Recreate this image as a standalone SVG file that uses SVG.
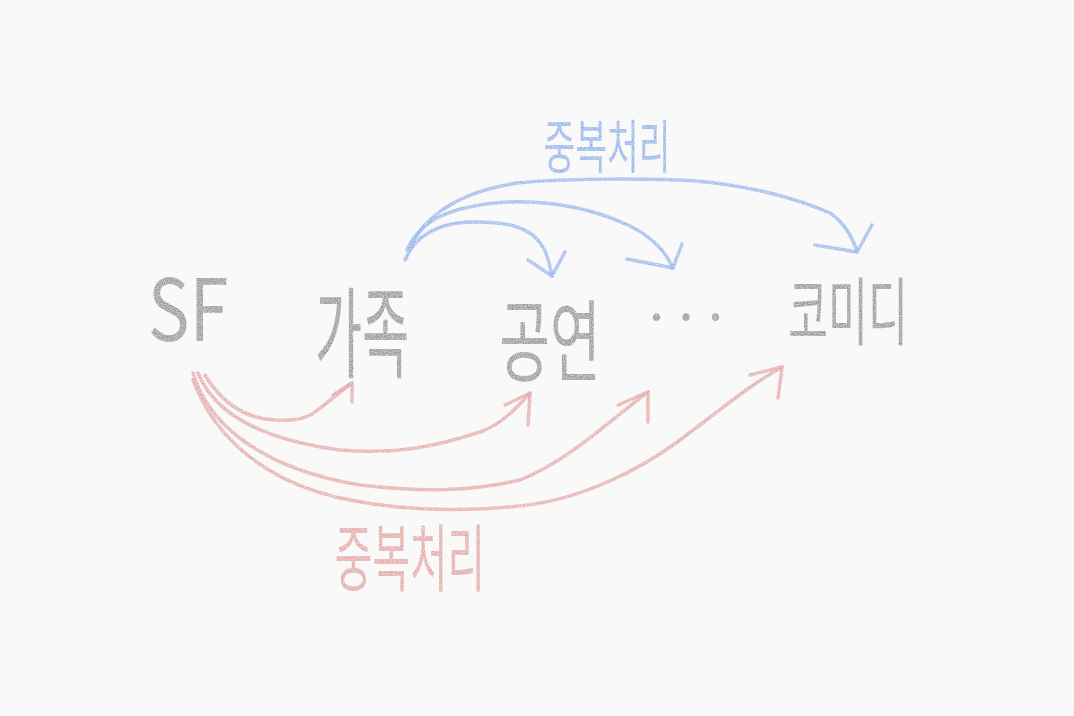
<svg xmlns="http://www.w3.org/2000/svg" width="1074" height="716" viewBox="0 0 1074 716">
<defs>
<filter id="pencil" x="-5%" y="-5%" width="110%" height="110%">
<feTurbulence type="fractalNoise" baseFrequency="0.9" numOctaves="2" seed="3" result="n"/>
<feColorMatrix in="n" type="matrix" values="0 0 0 0 0  0 0 0 0 0  0 0 0 0 0  0 0 0 -1.4 1.45" result="a"/>
<feComposite in="SourceGraphic" in2="a" operator="in"/>
</filter>
</defs>
<style>
.lbl{font-family:"Noto Sans CJK KR","Noto Sans",sans-serif;font-weight:400;text-anchor:middle;fill:#808080;fill-opacity:.8}
.blue{fill:#7aa3e6}
.red{fill:#de9494}
.cb{fill:none;stroke:#85aae8;stroke-width:3.5;stroke-linecap:round;stroke-linejoin:round;stroke-opacity:.8}
.cr{fill:none;stroke:#e09a9a;stroke-width:3.5;stroke-linecap:round;stroke-linejoin:round;stroke-opacity:.8}
</style>
<rect width="1074" height="716" fill="#f9f9f9"/>
<g filter="url(#pencil)">
<g id="node-sf"><text class="lbl" transform="translate(188,341) scale(0.9,1.1)" font-size="78">SF</text></g>
<g id="node-family"><text class="lbl" transform="translate(362,370) scale(0.8,1.55)" font-size="64">가족</text></g>
<g id="node-show"><text class="lbl" transform="translate(550,374) scale(0.86,1.38)" font-size="64">공연</text></g>
<g id="node-etc"><text class="lbl" transform="translate(693,320)" font-size="56" letter-spacing="14">...</text></g>
<g id="node-comedy"><text class="lbl" transform="translate(848,339) scale(0.68,1.15)" font-size="64">코미디</text></g>
<g id="label-blue"><text class="lbl blue" transform="translate(607,168) scale(0.72,1.2)" font-size="48">중복처리</text></g>
<g id="label-red"><text class="lbl red" transform="translate(410,585) scale(0.73,1.3)" font-size="56">중복처리</text></g>
<g id="connectors">
<path class="cb" d="M405,260 C415,235 440,222 473,222 C505,222 530,225 543,247 C548,256 550,265 552,276"/>
<path class="cb" d="M528,260 L552,276 L565,252"/>
<path class="cb" d="M407,250 C420,220 450,206 507,202 C560,200 600,212 630,226 C650,236 665,250 673,268"/>
<path class="cb" d="M627,259 L673,268 L682,244"/>
<path class="cb" d="M410,248 C425,215 460,192 517,183 C570,178 660,178 707,182 C760,188 800,200 830,213 C843,222 852,235 857,252"/>
<path class="cb" d="M815,245 L857,252 L872,225"/>
<path class="cr" d="M205,375 C220,400 240,415 265,419 C290,422 305,420 315,412 C328,402 340,392 352,383"/>
<path class="cr" d="M333,395 L352,383 L352,402"/>
<path class="cr" d="M198,373 C215,415 265,440 340,450 C400,455 440,445 480,432 C500,425 515,410 530,393"/>
<path class="cr" d="M505,405 L530,393 L528,425"/>
<path class="cr" d="M193,373 C210,430 270,470 360,485 C420,492 470,492 520,480 C570,460 610,420 648,392"/>
<path class="cr" d="M618,405 L648,392 L648,422"/>
<path class="cr" d="M193,380 C215,440 270,485 350,500 C400,510 460,512 520,506 C580,500 640,470 680,440 C720,410 750,385 782,367"/>
<path class="cr" d="M750,375 L782,367 L778,398"/>
</g>
</g>
</svg>
